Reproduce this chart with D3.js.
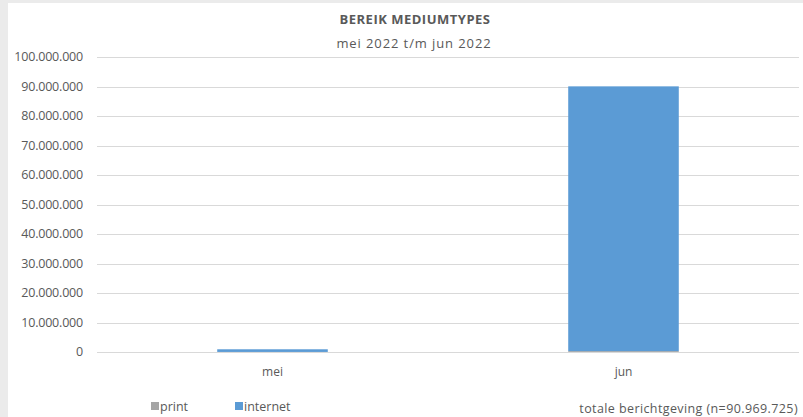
<!DOCTYPE html>
<meta charset="utf-8">
<html>
<style>
	body { margin: 0; background: #ebebeb; }
	text { font-family: "Open Sans", "Noto Sans", sans-serif; fill: #595959; }
	.grid line { stroke: #d9d9d9; stroke-width: 1px; }
</style>
<body>
	<script src="https://d3js.org/d3.v7.min.js"></script>
	<script type="text/javascript">
		// data
		var months = ["mei", "jun"];
		var seriesNames = ["print", "internet"];
		var printValues = [19725, 300000];
		var internetValues = [900000, 89750000];
		var yTicks = [0, 10000000, 20000000, 30000000, 40000000, 50000000, 60000000, 70000000, 80000000, 90000000, 100000000];
		var colors = ["#a5a5a5", "#5b9bd5"];

		var width = 803, height = 417;
		var plotL = 97, plotR = 799, plotT = 57, plotB = 352;

		var svg = d3.select("body").append("svg")
			.attr("width", width)
			.attr("height", height)
			.style("display", "block");

		// white chart area, grey frame on left/top
		svg.append("rect")
			.attr("x", 8).attr("y", 3)
			.attr("width", width - 8).attr("height", height - 3)
			.attr("fill", "#fff");

		var x = d3.scaleBand().domain(months).range([plotL, plotR]).paddingInner(0.685).paddingOuter(0.3425);
		var y = d3.scaleLinear().domain([0, 100000000]).range([plotB, plotT]);

		var fmt = function (v) { return d3.format(",")(v).replace(/,/g, "."); };

		// gridlines
		var grid = svg.append("g").attr("class", "grid");
		grid.selectAll("line").data(yTicks).enter().append("line")
			.attr("x1", plotL).attr("x2", plotR)
			.attr("y1", function (d) { return Math.round(y(d)) + 0.5; })
			.attr("y2", function (d) { return Math.round(y(d)) + 0.5; });

		// y labels
		svg.append("g").selectAll("text").data(yTicks).enter().append("text")
			.attr("x", 83)
			.attr("y", function (d) { return y(d); })
			.attr("dy", "0.35em")
			.attr("text-anchor", "end")
			.style("font-size", "12.5px")
			.style("letter-spacing", "-0.2px")
			.text(fmt);

		// stacked bars
		var rows = months.map(function (m, i) { return { month: m, print: printValues[i], internet: internetValues[i] }; });
		var stack = d3.stack().keys(seriesNames)(rows);
		svg.append("g").selectAll("g").data(stack).enter().append("g")
			.attr("fill", function (d, i) { return colors[i]; })
			.selectAll("rect").data(function (d) { return d; }).enter().append("rect")
			.attr("x", function (d) { return x(d.data.month); })
			.attr("width", x.bandwidth())
			.attr("y", function (d) { return y(d[1]); })
			.attr("height", function (d) { return y(d[0]) - y(d[1]); });

		// category labels
		svg.append("g").selectAll("text").data(months).enter().append("text")
			.attr("x", function (d) { return x(d) + x.bandwidth() / 2; })
			.attr("y", 376)
			.attr("text-anchor", "middle")
			.style("font-size", "12px")
			.text(function (d) { return d; });

		// titles
		svg.append("text")
			.attr("x", 415).attr("y", 24)
			.attr("text-anchor", "middle")
			.style("font-size", "13px").style("font-weight", "bold")
			.style("letter-spacing", "0.5px")
			.text("BEREIK MEDIUMTYPES");
		svg.append("text")
			.attr("x", 414).attr("y", 48)
			.attr("text-anchor", "middle")
			.style("font-size", "13px")
			.style("letter-spacing", "0.9px")
			.text("mei 2022 t/m jun 2022");

		// legend
		var legendX = [151, 235];
		var legend = svg.append("g").selectAll("g").data(seriesNames).enter().append("g")
			.attr("transform", function (d, i) { return "translate(" + legendX[i] + ",402)"; });
		legend.append("rect").attr("width", 8).attr("height", 8)
			.attr("fill", function (d, i) { return colors[i]; });
		legend.append("text").attr("x", 9).attr("y", 9)
			.style("font-size", "12.5px")
			.text(function (d) { return d; });

		// footnote
		svg.append("text")
			.attr("x", 798).attr("y", 413)
			.attr("text-anchor", "end")
			.style("font-size", "12.5px")
			.style("letter-spacing", "0.4px")
			.text("totale berichtgeving (n=90.969.725)");
	</script>
</body>
</html>
